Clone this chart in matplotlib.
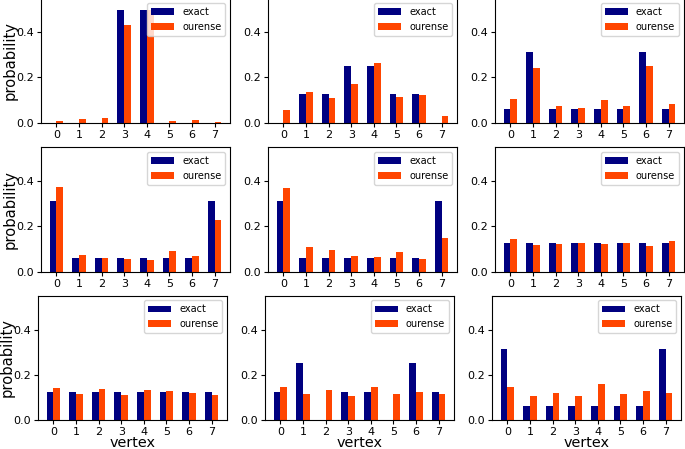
import numpy as np
import matplotlib
matplotlib.use('Agg')
import matplotlib.pyplot as plt

vertices = [0, 1, 2, 3, 4, 5, 6, 7]
labels = ['exact', 'ourense']

exact_1 = [0, 0, 0, 0.5, 0.5, 0, 0, 0]
ourense_1 = [0.007, 0.018, 0.021, 0.431, 0.498, 0.009, 0.013, 0.003]
exact_2 = [0, 0.125, 0.125, 0.25, 0.25, 0.125, 0.125, 0]
ourense_2 = [0.055, 0.136, 0.109, 0.172, 0.263, 0.112, 0.124, 0.03]
exact_3 = [0.0625, 0.3125, 0.0625, 0.0625, 0.0625, 0.0625, 0.3125, 0.0625]
ourense_3 = [0.106, 0.240, 0.075, 0.067, 0.101, 0.076, 0.249, 0.082]
exact_4 = [0.3125, 0.0625, 0.0625, 0.0625, 0.0625, 0.0625, 0.0625, 0.3125]
ourense_4 = [0.376, 0.074, 0.061, 0.057, 0.052, 0.092, 0.068, 0.228]
exact_5 = [0.3125, 0.0625, 0.0625, 0.0625, 0.0625, 0.0625, 0.0625, 0.3125]
ourense_5 = [0.370, 0.110, 0.094, 0.071, 0.064, 0.086, 0.055, 0.150]
exact_6 = [0.125] * 8
ourense_6 = [0.146, 0.119, 0.122, 0.126, 0.122, 0.129, 0.113, 0.135]
exact_7 = [0.125] * 8
ourense_7 = [0.143, 0.116, 0.135, 0.109, 0.134, 0.129, 0.119, 0.110]
exact_8 = [0.125, 0.25, 0, 0.125, 0.125, 0, 0.25, 0.125]
ourense_8 = [0.146, 0.117, 0.134, 0.104, 0.144, 0.115, 0.122, 0.115]
exact_9 = [0.3125, 0.0625, 0.0625, 0.0625, 0.0625, 0.0625, 0.0625, 0.3125]
ourense_9 = [0.146, 0.106, 0.120, 0.107, 0.159, 0.113, 0.128, 0.120]

panels = [(exact_1, ourense_1), (exact_2, ourense_2), (exact_3, ourense_3),
          (exact_4, ourense_4), (exact_5, ourense_5), (exact_6, ourense_6),
          (exact_7, ourense_7), (exact_8, ourense_8), (exact_9, ourense_9)]

W, H = 685, 449
fig = plt.figure(figsize=(W / 100, H / 100), dpi=100)

# pixel layout of the axes (left edges per row, bottom edges per row)
lefts = [[41, 268, 495], [41, 268, 495], [38, 265, 492]]
bottoms = [122.7, 271.7, 420]
aw, ah = 189, 124.4

x = np.array(vertices)
w = 0.3
for i, (ex, ou) in enumerate(panels):
    r, c = divmod(i, 3)
    ax = fig.add_axes([lefts[r][c] / W, (H - bottoms[r]) / H, aw / W, ah / H])
    ax.bar(x - w / 2, ex, w, color='navy', label=labels[0])
    ax.bar(x + w / 2, ou, w, color='orangered', label=labels[1])
    ax.set_ylim(0, 0.55)
    ax.set_xticks(x)
    ax.set_yticks([0.0, 0.2, 0.4])
    ax.tick_params(labelsize=8, length=3, pad=2)
    ax.legend(loc='upper right', fontsize=7, handlelength=2.4)
    if c == 0:
        ax.set_ylabel('probability', fontsize=10.6)
        ax.yaxis.set_label_coords(-0.125, 0.5)
    if r == 2:
        ax.set_xlabel('vertex', fontsize=10.4)
        ax.xaxis.label.set_va('center')
        ax.xaxis.set_label_coords(0.5, -0.185)

fig.savefig('out.png', dpi=100)
